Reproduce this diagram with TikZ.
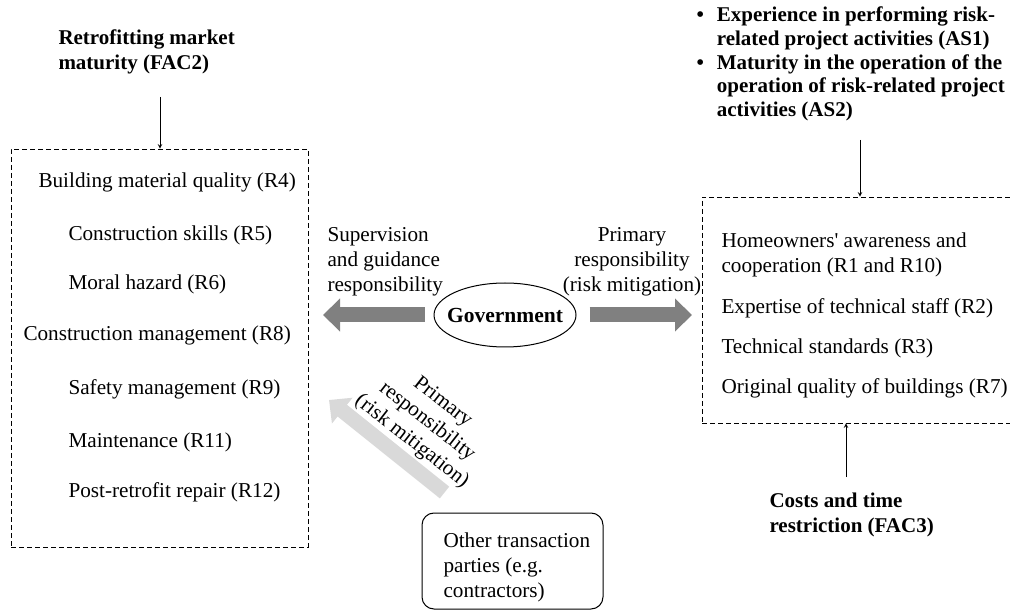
\documentclass[tikz,border=0pt]{standalone}
\usepackage{fontspec}
\setmainfont{Liberation Serif}
\usetikzlibrary{shapes.geometric,arrows.meta}
\tikzset{>=stealth}
\tikzset{
  riskbox/.style={draw,dash pattern=on 5pt off 3pt,line width=.8pt,inner sep=0pt},
  riskitem/.style={anchor=west,inner sep=0pt,font=\fontsize{21.2}{25}\selectfont},
  factor/.style={anchor=west,inner sep=0pt,align=left,font=\fontsize{21}{25}\selectfont\bfseries},
  fat/.style={line width=15pt,-{Triangle[length=17pt,width=32pt]}},
}
\definecolor{darkarrow}{RGB}{128,128,128}
\definecolor{lightarrow}{RGB}{217,217,217}

\begin{document}
\begin{tikzpicture}[x=1pt,y=-1pt,line width=1pt]
\useasboundingbox (0,0) rectangle (1010,612);

% left group
\node[riskbox,minimum width=297pt,minimum height=398pt] (lbox) at (159.5,348) {};
\node[factor] (fac2) at (58,52) {Retrofitting market\\maturity (FAC2)};
\coordinate (fac2tail) at (160,97);
\draw[->] (fac2tail) -- (fac2tail |- lbox.north);
\node[riskitem] (r4) at (38,182) {Building material quality (R4)};
\node[riskitem] (r5) at (68,235) {Construction skills (R5)};
\node[riskitem] (r6) at (68,284) {Moral hazard (R6)};
\node[riskitem] (r8) at (23,335) {Construction management (R8)};
\node[riskitem] (r9) at (68,389) {Safety management (R9)};
\node[riskitem] (r11) at (68,442) {Maintenance (R11)};
\node[riskitem] (r12) at (68,492) {Post-retrofit repair (R12)};

% government
\node[draw,ellipse,inner xsep=-9pt,inner ysep=0pt,minimum width=142pt,minimum height=64pt,
  font=\fontsize{21.5}{25}\selectfont\bfseries] (gov) at (505,315) {Government};
\node[riskitem,align=left] (sup) at (327,262) {Supervision\\and guidance\\responsibility};
\node[riskitem,anchor=center,align=center] (prim) at (632,262) {Primary\\responsibility\\(risk mitigation)};
\coordinate (ltip) at (323,315);
\coordinate (rtip) at (692,315);
\draw[fat,darkarrow] ([xshift=-9pt]gov.west) -- (ltip);
\draw[fat,darkarrow] ([xshift=13pt]gov.east) -- (rtip);

% right group
\node[riskbox,minimum width=313pt,minimum height=226pt] (rbox) at (858.5,310) {};
\node[factor,font=\fontsize{21}{23.7}\selectfont\bfseries] (as) at (696,64.5) {\begin{tabular}{@{}l@{\hspace{13pt}}l@{}}
  \textbullet & Experience in performing risk-\\
   & related project activities (AS1)\\
  \textbullet & Maturity in the operation of the\\
   & operation of risk-related project\\
   & activities (AS2)
\end{tabular}};
\coordinate (astail) at (860,140);
\draw[->] (astail) -- (astail |- rbox.north);
\node[riskitem,align=left] (r1) at (721,254.5) {Homeowners\textquotesingle{} awareness and\\cooperation (R1 and R10)};
\node[riskitem] (r2) at (721,308) {Expertise of technical staff (R2)};
\node[riskitem] (r3) at (721,348) {Technical standards (R3)};
\node[riskitem] (r7) at (721,388) {Original quality of buildings (R7)};
\node[factor] (fac3) at (769,515) {Costs and time\\restriction (FAC3)};
\coordinate (fac3tail) at (846,477);
\draw[->] (fac3tail) -- (fac3tail |- rbox.south);

% other parties
\node[draw,rounded corners=12pt,minimum width=181pt,minimum height=96pt] (other) at (512.5,561) {};
\node[riskitem,align=left] (othertxt) at (443,567) {Other transaction\\parties (e.g.\\contractors)};
\coordinate (dtip) at (329,400);
\draw[fat,lightarrow] ([shift={(23,-20)}]other.north west) -- (dtip);
\node[rotate=-38,align=center,inner sep=0pt,font=\fontsize{21.2}{25}\selectfont] (prim2) at (427,422) {Primary\\responsibility\\(risk mitigation)};
\end{tikzpicture}
\end{document}
